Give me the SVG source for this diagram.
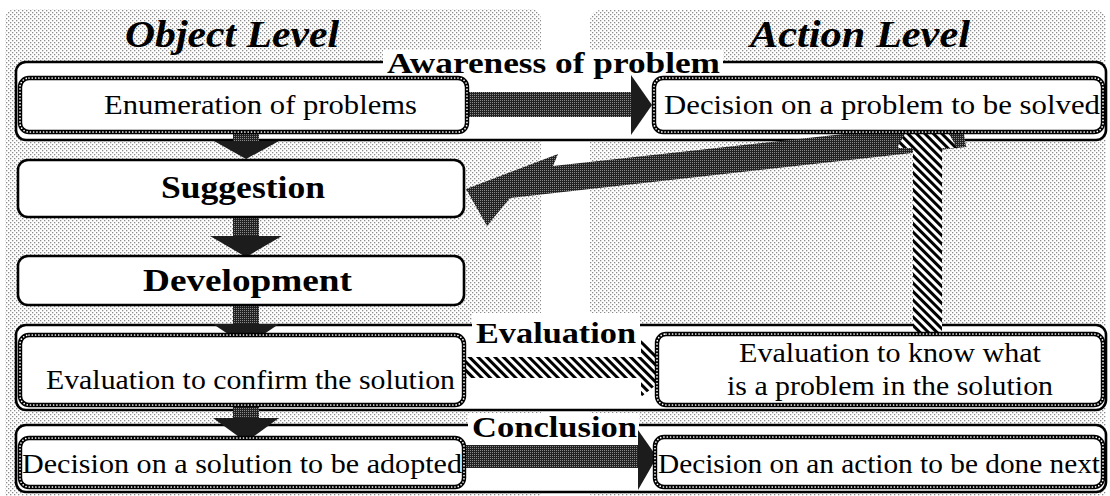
<svg xmlns="http://www.w3.org/2000/svg" width="1110" height="496" viewBox="0 0 1110 496">
  <style>
    .txt { font-family: "Liberation Serif", "DejaVu Serif", serif; fill: #000; }
    .head { font-size: 38px; font-weight: bold; font-style: italic; }
    .lbl { font-size: 30px; font-weight: bold; }
    .big { font-size: 32px; font-weight: bold; }
    .reg { font-size: 28px; }
    .outer { fill: #fff; stroke: #000; stroke-width: 2.6; }
    .plain { fill: #fff; stroke: #000; stroke-width: 2.6; }
    .beadA { fill: #fff; stroke: #000; stroke-width: 4.4; }
    .beadB { fill: none; stroke: #fff; stroke-width: 1.7; stroke-dasharray: 0 3.3; stroke-linecap: round; }
    .dark { fill: url(#dark); }
    .darkhead { fill: #1c1c1c; }
    .hatch { fill: url(#hatch); }
  </style>
  <defs>
    <!-- light halftone used for the two column panels -->
    <pattern id="halftone" width="4" height="4" patternUnits="userSpaceOnUse">
      <rect width="4" height="4" fill="#fff"/>
      <rect x="0" y="0" width="1.3" height="1.3" fill="#8c8c8c"/>
      <rect x="2" y="2" width="1.3" height="1.3" fill="#8c8c8c"/>
    </pattern>
    <!-- dark halftone used for the solid arrows -->
    <pattern id="dark" width="2" height="2" patternUnits="userSpaceOnUse">
      <rect width="2" height="2" fill="#222"/>
      <rect x="0" y="0" width="1" height="1" fill="#8a8a8a"/>
    </pattern>
    <!-- diagonal stripes for the evaluation feedback arrows -->
    <pattern id="hatch" width="6" height="6" patternUnits="userSpaceOnUse" patternTransform="rotate(-45)">
      <rect width="6" height="6" fill="#fff"/>
      <rect width="3" height="6" fill="#000"/>
    </pattern>
  </defs>

  <!-- column panels -->
  <g id="panels">
    <rect x="5" y="9" width="536" height="492" rx="10" fill="url(#halftone)"/>
    <rect x="590" y="10" width="516" height="492" rx="10" fill="url(#halftone)"/>
    <text class="txt head" x="125" y="47" textLength="214" lengthAdjust="spacingAndGlyphs">Object Level</text>
    <text class="txt head" x="750" y="47" textLength="220" lengthAdjust="spacingAndGlyphs">Action Level</text>
  </g>

  <!-- phase frames -->
  <g id="phase-awareness">
    <rect class="outer" x="16" y="62" width="1090" height="78" rx="10"/>
    <rect x="383" y="50" width="340" height="19" fill="#fff"/>
  </g>
  <g id="phase-evaluation">
    <rect class="outer" x="16" y="325" width="1090" height="85" rx="10"/>
    <rect x="472" y="313" width="168" height="20" fill="#fff"/>
  </g>
  <g id="phase-conclusion">
    <rect class="outer" x="16" y="425" width="1090" height="67" rx="10"/>
    <rect x="468" y="413" width="171" height="20" fill="#fff"/>
  </g>

  <!-- connectors -->
  <g id="connectors">
    <!-- Enumeration -> Decision on a problem -->
    <polygon class="dark" points="460,92 631,92 631,117 460,117"/>
    <polygon class="darkhead" points="631,75 652,105 631,135"/>
    <!-- vertical flow on the object level -->
    <polygon class="dark" points="233,128 259,128 259,142 233,142"/>
    <polygon class="darkhead" points="214,141 279,141 246,159"/>
    <polygon class="dark" points="233,214 259,214 259,236 233,236"/>
    <polygon class="darkhead" points="210,236 282,236 246,257"/>
    <polygon class="dark" points="233,303 259,303 259,324 233,324"/>
    <polygon class="darkhead" points="213,324 279,324 246,346"/>
    <polygon class="dark" points="233,403 259,403 259,418 233,418"/>
    <polygon class="darkhead" points="213,418 279,418 246,442"/>
    <!-- Decision on a problem -> Suggestion -->
    <polygon class="dark" points="466,189 558,154 553,166 962,121 966,147 510,198 487,226"/>
    <!-- Evaluation (object) -> Evaluation (action) -->
    <polygon class="hatch" points="460,357 641,357 641,340 677,368 641,397 641,378 460,378"/>
    <!-- Evaluation (action) -> Decision on a problem -->
    <polygon class="hatch" points="913,340 913,148 897,148 927,95 957,148 942,148 942,340"/>
    <!-- Decision on a solution -> Decision on an action -->
    <polygon class="dark" points="460,445 640,445 640,468 460,468"/>
    <polygon class="darkhead" points="638,430 657,457 638,490"/>
  </g>

  <!-- phase titles -->
  <text class="txt lbl" x="387" y="73" textLength="333" lengthAdjust="spacingAndGlyphs">Awareness of problem</text>
  <text class="txt lbl" x="476" y="343" textLength="160" lengthAdjust="spacingAndGlyphs">Evaluation</text>
  <text class="txt lbl" x="472" y="437" textLength="165" lengthAdjust="spacingAndGlyphs">Conclusion</text>

  <!-- nodes -->
  <g id="enumeration">
    <rect class="beadA" x="20" y="78" width="447" height="54" rx="9"/>
    <rect class="beadB" x="20" y="78" width="447" height="54" rx="9"/>
    <text class="txt reg" x="104" y="114" textLength="313" lengthAdjust="spacingAndGlyphs">Enumeration of problems</text>
  </g>
  <g id="decision-problem">
    <rect class="beadA" x="654" y="78" width="449" height="54" rx="9"/>
    <rect class="beadB" x="654" y="78" width="449" height="54" rx="9"/>
    <text class="txt reg" x="664" y="114" textLength="436" lengthAdjust="spacingAndGlyphs">Decision on a problem to be solved</text>
  </g>
  <g id="suggestion">
    <rect class="plain" x="18" y="160" width="446" height="57" rx="10"/>
    <text class="txt big" x="161" y="198" textLength="164" lengthAdjust="spacingAndGlyphs">Suggestion</text>
  </g>
  <g id="development">
    <rect class="plain" x="18" y="256" width="446" height="49" rx="10"/>
    <text class="txt big" x="143" y="291" textLength="209" lengthAdjust="spacingAndGlyphs">Development</text>
  </g>
  <g id="evaluation-confirm">
    <rect class="beadA" x="20" y="335" width="444" height="70" rx="9"/>
    <rect class="beadB" x="20" y="335" width="444" height="70" rx="9"/>
    <text class="txt reg" x="46" y="389" textLength="409" lengthAdjust="spacingAndGlyphs">Evaluation to confirm the solution</text>
  </g>
  <g id="evaluation-know">
    <rect class="beadA" x="657" y="334" width="446" height="71" rx="9"/>
    <rect class="beadB" x="657" y="334" width="446" height="71" rx="9"/>
    <text class="txt reg" x="739" y="362" textLength="302" lengthAdjust="spacingAndGlyphs">Evaluation to know what</text>
    <text class="txt reg" x="727" y="395" textLength="326" lengthAdjust="spacingAndGlyphs">is a problem in the solution</text>
  </g>
  <g id="decision-solution">
    <rect class="beadA" x="20" y="438" width="444" height="49" rx="9"/>
    <rect class="beadB" x="20" y="438" width="444" height="49" rx="9"/>
    <text class="txt reg" x="22" y="473" textLength="440" lengthAdjust="spacingAndGlyphs">Decision on a solution to be adopted</text>
  </g>
  <g id="decision-action">
    <rect class="beadA" x="655" y="437" width="448" height="50" rx="9"/>
    <rect class="beadB" x="655" y="437" width="448" height="50" rx="9"/>
    <text class="txt reg" x="658" y="473" textLength="442" lengthAdjust="spacingAndGlyphs">Decision on an action to be done next</text>
  </g>
</svg>
